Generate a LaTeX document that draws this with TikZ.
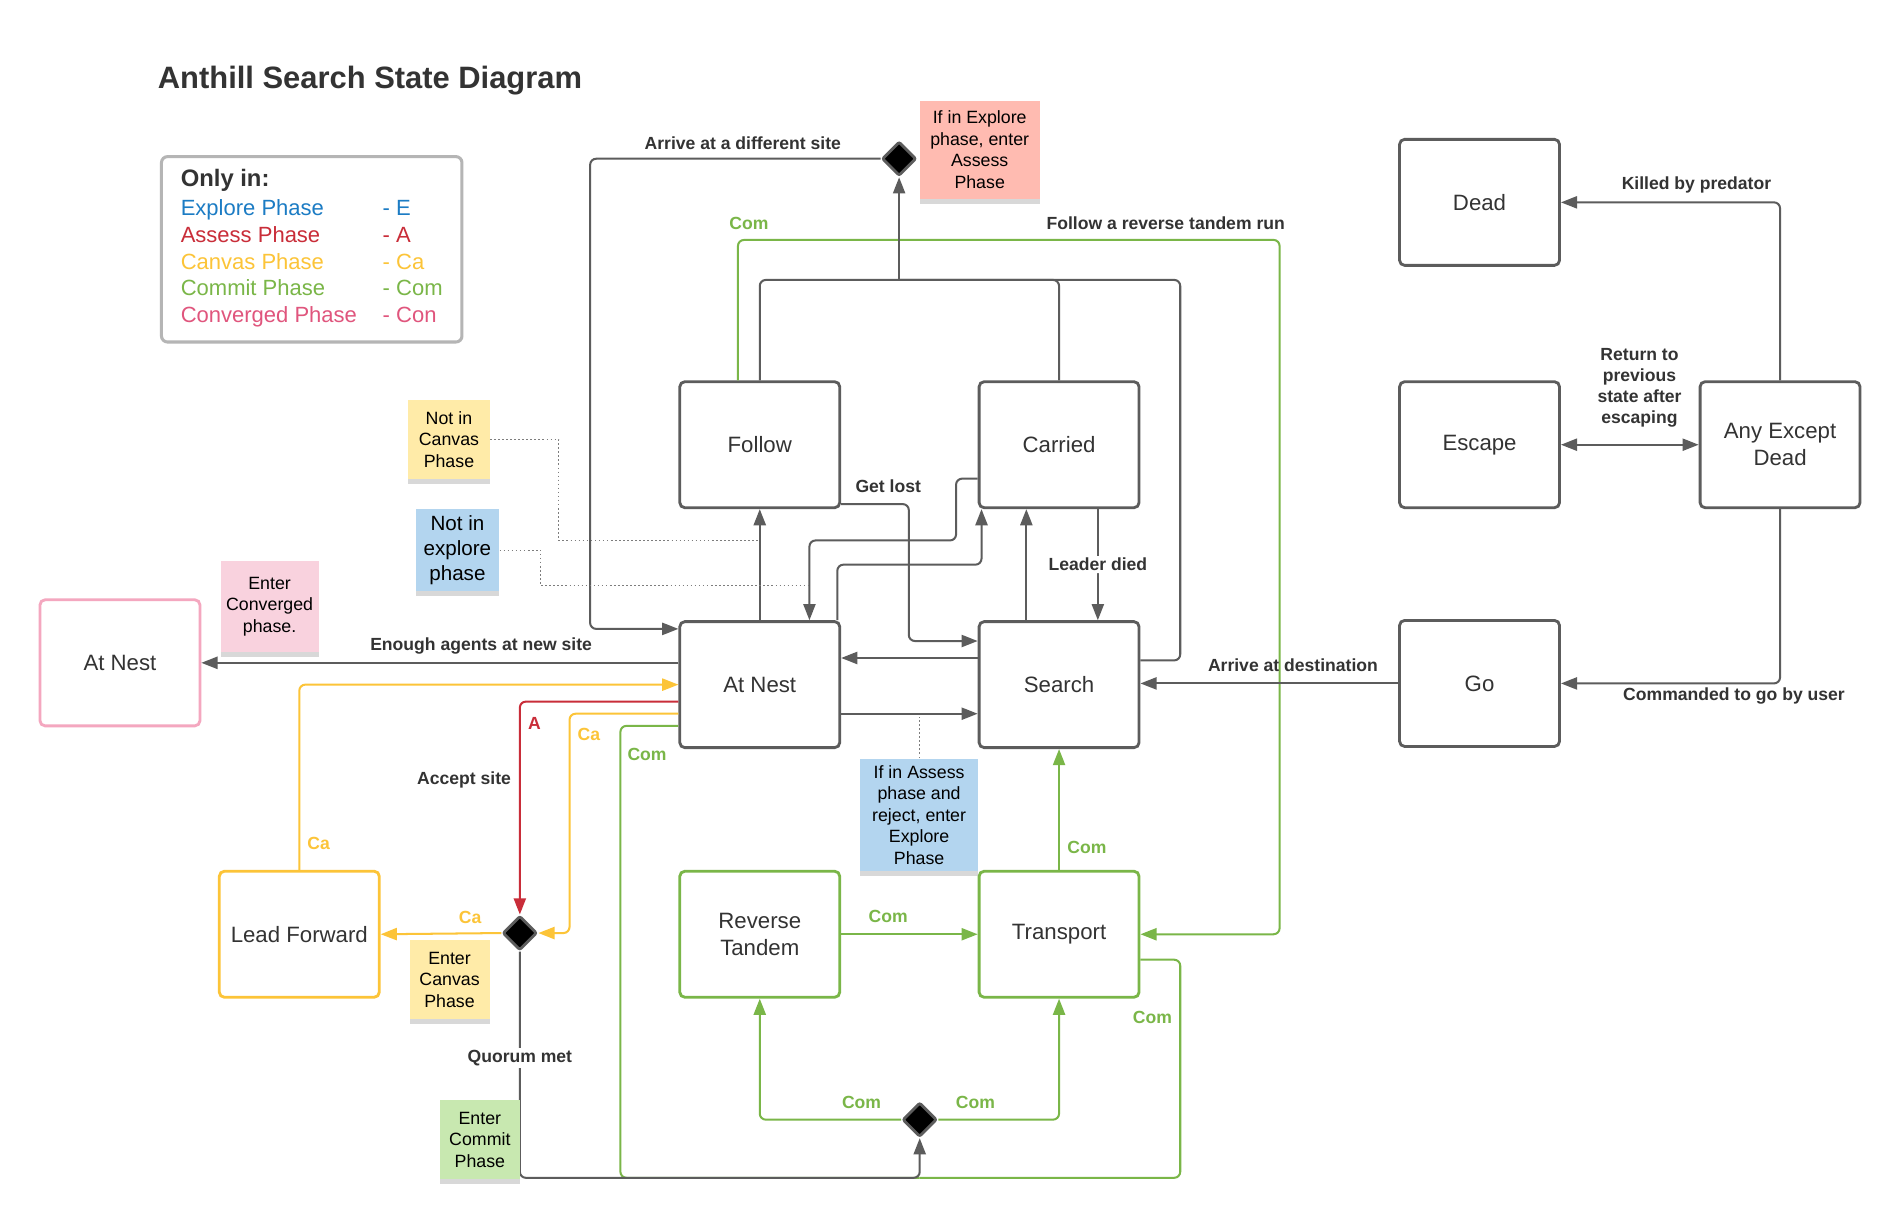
\documentclass[tikz,border=0pt]{standalone}
\usepackage{fontspec}
\setmainfont{Liberation Sans}
\usetikzlibrary{shapes.geometric,arrows.meta,shadows}

\definecolor{linegray}{HTML}{5C5C5C}
\definecolor{textdark}{HTML}{333333}
\definecolor{comgreen}{HTML}{7AB648}
\definecolor{cayellow}{HTML}{FCC438}
\definecolor{ared}{HTML}{C92D39}
\definecolor{eblue}{HTML}{1C7CC4}
\definecolor{conpink}{HTML}{E0557D}
\definecolor{convborder}{HTML}{F4A7BF}
\definecolor{legendgray}{HTML}{B5B5B5}
\definecolor{notesalmon}{HTML}{FFBBB1}
\definecolor{noteyellow}{HTML}{FFEBA8}
\definecolor{noteblue}{HTML}{B3D5EF}
\definecolor{notepink}{HTML}{F9D2DE}
\definecolor{notegreen}{HTML}{C8E8B0}

\begin{document}
\begin{tikzpicture}[x=0.6pt,y=-0.6pt,>={Triangle[length=8pt,width=6pt]},
  state/.style={draw=linegray,line width=1.4pt,rounded corners=2.5pt,fill=white,
    minimum width=79.2pt,minimum height=62.4pt,align=center,text=textdark,
    font=\fontsize{11}{13.2}\selectfont},
  branch/.style={diamond,draw=linegray,fill=black,line width=1.4pt,rounded corners=1pt,
    minimum size=17pt,inner sep=0pt},
  note/.style={fill=#1,align=center,inner sep=1pt,font=\fontsize{8.8}{10.6}\selectfont,
    drop shadow={shadow xshift=0pt,shadow yshift=-2.5pt,opacity=0.3}},
  conn/.style={draw=linegray,line width=1pt,rounded corners=3pt},
  comline/.style={conn,draw=comgreen},
  caline/.style={conn,draw=cayellow},
  aline/.style={conn,draw=ared},
  dots/.style={draw=linegray!80,line width=0.6pt,dash pattern=on 0.8pt off 1.2pt},
  lbl/.style={font=\fontsize{8.7}{10.5}\selectfont\bfseries,text=textdark,inner sep=1pt},
  comlbl/.style={lbl,text=comgreen},
  calbl/.style={lbl,text=cayellow},
  albl/.style={lbl,text=ared}]

	\fill[white] (0,0) rectangle (1568,1015);
	\useasboundingbox (0,0) rectangle (1568,1015);

	\node[anchor=base west,inner sep=0pt,text=textdark,font=\fontsize{15.3}{18}\selectfont\bfseries] (title) at (130,73) {Anthill Search State Diagram};
	\node[draw=legendgray,line width=1.5pt,rounded corners=3pt,minimum width=148.8pt,minimum height=91.8pt,anchor=north west,text=textdark] (legend) at (132,128) {\fontsize{10.9}{13.2}\selectfont
		\begin{tabular}{@{}p{100pt}@{}l@{}}
		\multicolumn{2}{@{}l@{}}{\fontsize{11.8}{13.2}\selectfont\bfseries Only in:}\\[1.2pt]
		\textcolor{eblue}{Explore Phase} & \textcolor{eblue}{- E}\\
		\textcolor{ared}{Assess Phase} & \textcolor{ared}{- A}\\
		\textcolor{cayellow}{Canvas Phase} & \textcolor{cayellow}{- Ca}\\
		\textcolor{comgreen}{Commit Phase} & \textcolor{comgreen}{- Com}\\
		\textcolor{conpink}{Converged Phase} & \textcolor{conpink}{- Con}
		\end{tabular}};

	\node[state] (follow) at (627,367) {Follow};
	\node[state] (carried) at (874,367) {Carried};
	\node[state] (atnest) at (627,565) {At Nest};
	\node[state] (search) at (874,565) {Search};
	\node[state] (dead) at (1221,167) {Dead};
	\node[state] (escape) at (1221,367) {Escape};
	\node[state] (anyexcept) at (1469,367) {Any Except\\Dead};
	\node[state] (go) at (1221,564) {Go};
	\node[state,draw=convborder] (convnest) at (99,547) {At Nest};
	\node[state,draw=cayellow] (leadfwd) at (247,771) {Lead Forward};
	\node[state,draw=comgreen] (revtandem) at (627,771) {Reverse\\Tandem};
	\node[state,draw=comgreen] (transport) at (874,771) {Transport};

	\node[branch] (topbranch) at (742,131) {};
	\node[branch] (quorumbranch) at (429,770) {};
	\node[branch] (combranch) at (759,924) {};

	\coordinate (rtbend) at (1056,198);
	\draw[comline,->] (follow.north -| 609,0) |- (rtbend) |- (transport.east);
	\node[comlbl] (comlbl1) at (618,184) {Com};
	\node[lbl] (rtlbl) at (962,184) {Follow a reverse tandem run};

	\coordinate (topjoin) at (742,231);
	\coordinate (searchbend) at (974,231);
	\draw[conn] (follow.north) |- (topjoin);
	\draw[conn] (carried.north) |- (topjoin);
	\draw[conn] (search.east |- 0,545) -| (searchbend) -- (topjoin);
	\draw[conn,->] (topjoin) -- (topbranch.south);
	\coordinate (arrivebend) at (487,131);
	\draw[conn,->] (topbranch.west) -- (arrivebend) |- (atnest.west |- 0,519);
	\node[lbl] (arrivelbl) at (613,118) {Arrive at a different site};

	\draw[conn,->] (atnest.north) -- (follow.south);
	\coordinate (lostbend) at (750,529);
	\draw[conn,->] (follow.east |- 0,416) -| (lostbend) -- (search.west |- lostbend);
	\node[lbl] (lostlbl) at (733,401) {Get lost};
	\coordinate (carriedbend) at (789,446);
	\draw[conn,->] (carried.west |- 0,395) -| (carriedbend) -| (atnest.north -| 668,0);
	\coordinate (nestbend) at (810,466);
	\draw[conn,->] (atnest.north -| 691,0) |- (nestbend) -- (carried.south -| nestbend);
	\draw[conn,->] (search.north -| 847,0) -- (carried.south -| 847,0);
	\draw[conn,->] (carried.south -| 906,0) -- node[lbl,fill=white] (leaderlbl) {Leader died} (search.north -| 906,0);
	\draw[conn,->] (search.west |- 0,543) -- (atnest.east |- 0,543);
	\draw[conn,->] (atnest.east |- 0,589) -- (search.west |- 0,589);

	\draw[conn,->] (go.west) -- (search.east |- go.west);
	\node[lbl] (destlbl) at (1067,549) {Arrive at destination};
	\draw[conn,->] (anyexcept.north) |- (dead.east);
	\node[lbl] (killlbl) at (1400,153) {Killed by predator};
	\draw[conn,<->] (escape.east) -- (anyexcept.west);
	\node[lbl,align=center] (returnlbl) at (1353,320) {Return to\\previous\\state after\\escaping};
	\draw[conn,->] (anyexcept.south) |- (go.east);
	\node[lbl] (commandlbl) at (1431,574) {Commanded to go by user};

	\draw[conn,->] (atnest.west |- 0,547) -- (convnest.east);
	\node[lbl] (enoughlbl) at (397,533) {Enough agents at new site};
	\draw[caline,->] (leadfwd.north) |- (atnest.west);
	\node[calbl] (calbl1) at (263,696) {Ca};
	\draw[aline,->] (atnest.west |- 0,579) -| (quorumbranch.north);
	\node[albl] (albl) at (441,597) {A};
	\node[lbl] (acceptlbl) at (383,644) {Accept site};
	\coordinate (cabend) at (470,770);
	\draw[caline,->] (atnest.west |- 0,589) -| (cabend) -- (quorumbranch.east);
	\node[calbl] (calbl2) at (486,606) {Ca};

	\coordinate (combend) at (512,972);
	\coordinate (bottomjoin) at (759,972);
	\coordinate (transbend) at (974,972);
	\coordinate (quorumbend) at (429,972);
	\draw[comline] (atnest.west |- 0,599) -| (combend) -- (bottomjoin);
	\node[comlbl] (comlbl2) at (534,623) {Com};
	\draw[comline] (transport.east |- 0,792) -| (transbend) -- (bottomjoin);
	\node[comlbl] (comlbl3) at (951,840) {Com};
	\draw[conn,->] (quorumbranch.south) -- (quorumbend) -- (bottomjoin) -- (combranch.south);
	\node[lbl,fill=white] (quorumlbl) at (429,873) {Quorum met};
	\draw[caline,->] (quorumbranch.west) -- (leadfwd.east);
	\node[calbl] (calbl3) at (388,757) {Ca};

	\draw[comline,->] (combranch.west) -| (revtandem.south);
	\node[comlbl] (comlbl4) at (711,910) {Com};
	\draw[comline,->] (combranch.east) -| (transport.south);
	\node[comlbl] (comlbl5) at (805,910) {Com};
	\draw[comline,->] (revtandem.east) -- (transport.west);
	\node[comlbl] (comlbl6) at (733,756) {Com};
	\draw[comline,->] (transport.north) -- (search.south);
	\node[comlbl] (comlbl7) at (897,699) {Com};

	\node[note=notesalmon,minimum width=59.4pt,minimum height=48.6pt] (explorenote) at (808.5,123.5) {If in Explore\\phase, enter\\Assess\\Phase};
	\node[note=noteyellow,minimum width=40.2pt,minimum height=39pt] (notcanvasnote) at (370.5,362.5) {Not in\\Canvas\\Phase};
	\node[note=noteblue,minimum width=41.4pt,minimum height=40.8pt,font=\fontsize{10.2}{12.3}\selectfont] (notexplorenote) at (377.5,454) {Not in\\explore\\phase};
	\node[note=notepink,minimum width=48.6pt,minimum height=45pt] (convnote) at (222.5,500.5) {Enter\\Converged\\phase.};
	\node[note=noteblue,minimum width=58.2pt,minimum height=55.8pt] (assessnote) at (758.5,672.5) {If in Assess\\phase and\\reject, enter\\Explore\\Phase};
	\node[note=noteyellow,minimum width=39.6pt,minimum height=39pt] (canvasnote) at (371,808.5) {Enter\\Canvas\\Phase};
	\node[note=notegreen,minimum width=39.6pt,minimum height=39pt] (commitnote) at (396,940.5) {Enter\\Commit\\Phase};

	\coordinate (canvasbend) at (461,446);
	\draw[dots] (notcanvasnote.east) -| (canvasbend) -- (atnest.north |- canvasbend);
	\coordinate (explorebend) at (446,483);
	\coordinate (exploreend) at (668,483);
	\draw[dots] (notexplorenote.east) -| (explorebend) -- (exploreend);
	\draw[dots] (assessnote.north) -- (assessnote.north |- 0,592);

\end{tikzpicture}
\end{document}
